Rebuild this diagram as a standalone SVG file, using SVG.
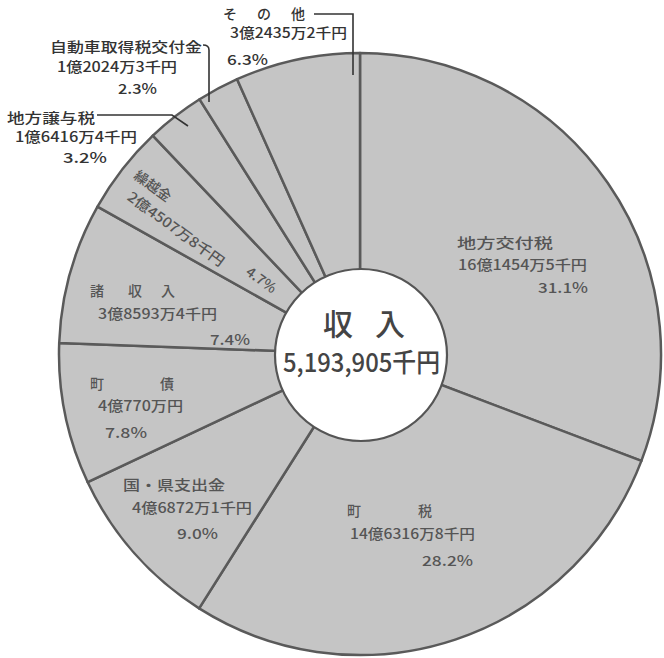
<svg xmlns="http://www.w3.org/2000/svg" width="664" height="658" viewBox="0 0 664 658">
<style>
.slice{fill:#c5c5c5;stroke:#5a5a5a;stroke-width:2.5;stroke-linejoin:round}
.t{font-family:"Noto Sans CJK JP","Noto Sans",sans-serif;fill:#555;font-size:14px;font-weight:500}
.o{font-family:"Noto Sans CJK JP","Noto Sans",sans-serif;fill:#333;font-size:14px;font-weight:500}
.lead{fill:none;stroke:#333;stroke-width:1.6}
.c{font-family:"Noto Sans CJK JP","Noto Sans",sans-serif;fill:#444;font-weight:500}
</style>
<rect width="664" height="658" fill="#fff"/>
<g id="slices">
<g id="chihoukoufuzei">
<path class="slice" d="M360 354 L360 53 A301 301 0 0 1 641.4 460.9 Z"/>
<text class="t" x="457" y="248" textLength="96" lengthAdjust="spacingAndGlyphs">地方交付税</text>
<text class="t" x="458" y="270" textLength="129" lengthAdjust="spacingAndGlyphs">16億1454万5千円</text>
<text class="t" x="538" y="293" textLength="50" lengthAdjust="spacingAndGlyphs">31.1%</text>
</g>
<g id="chouzei">
<path class="slice" d="M360 354 L641.4 460.9 A301 301 0 0 1 199.1 608.4 Z"/>
<text class="t" x="347" y="516">町</text>
<text class="t" x="418" y="516">税</text>
<text class="t" x="350" y="539" textLength="125" lengthAdjust="spacingAndGlyphs">14億6316万8千円</text>
<text class="t" x="422" y="566" textLength="51" lengthAdjust="spacingAndGlyphs">28.2%</text>
</g>
<g id="kokukenshishutsukin">
<path class="slice" d="M360 354 L199.1 608.4 A301 301 0 0 1 87.7 482.2 Z"/>
<text class="t" x="123" y="490" textLength="102" lengthAdjust="spacingAndGlyphs">国・県支出金</text>
<text class="t" x="132" y="513" textLength="120" lengthAdjust="spacingAndGlyphs">4億6872万1千円</text>
<text class="t" x="177" y="539" textLength="41" lengthAdjust="spacingAndGlyphs">9.0%</text>
</g>
<g id="chousai">
<path class="slice" d="M360 354 L87.7 482.2 A301 301 0 0 1 59.2 343 Z"/>
<text class="t" x="90" y="389">町</text>
<text class="t" x="160" y="389">債</text>
<text class="t" x="98" y="411" textLength="85" lengthAdjust="spacingAndGlyphs">4億770万円</text>
<text class="t" x="105" y="438" textLength="42" lengthAdjust="spacingAndGlyphs">7.8%</text>
</g>
<g id="shoshuunyuu">
<path class="slice" d="M360 354 L59.2 343 A301 301 0 0 1 97.5 206.7 Z"/>
<text class="t" x="90" y="296">諸</text>
<text class="t" x="128" y="296">収</text>
<text class="t" x="161" y="296">入</text>
<text class="t" x="98" y="319" textLength="119" lengthAdjust="spacingAndGlyphs">3億8593万4千円</text>
<text class="t" x="210" y="345" textLength="40" lengthAdjust="spacingAndGlyphs">7.4%</text>
</g>
<g id="kurikoshikin">
<path class="slice" d="M360 354 L97.5 206.7 A301 301 0 0 1 152.8 135.6 Z"/>
<g transform="translate(176 229) rotate(36)">
<text class="t" x="-65" y="-16" font-size="13" textLength="42" lengthAdjust="spacingAndGlyphs">繰越金</text>
<text class="t" x="-58" y="5" font-size="13" textLength="116" lengthAdjust="spacingAndGlyphs">2億4507万8千円</text>
<text class="t" x="82" y="-4" font-size="13" textLength="34" lengthAdjust="spacingAndGlyphs">4.7%</text>
</g>
</g>
<g id="chihoujouyozei">
<path class="slice" d="M360 354 L152.8 135.6 A301 301 0 0 1 199.6 99.3 Z"/>
<text class="o" x="7" y="123" font-size="13" textLength="88" lengthAdjust="spacingAndGlyphs">地方譲与税</text>
<text class="o" x="15" y="142" textLength="122" lengthAdjust="spacingAndGlyphs">1億6416万4千円</text>
<text class="o" x="63" y="163" textLength="44" lengthAdjust="spacingAndGlyphs">3.2%</text>
</g>
<g id="jidousha">
<path class="slice" d="M360 354 L199.6 99.3 A301 301 0 0 1 237.1 79.2 Z"/>
<text class="o" x="50" y="52" font-size="15" textLength="152" lengthAdjust="spacingAndGlyphs">自動車取得税交付金</text>
<text class="o" x="57" y="72" textLength="120" lengthAdjust="spacingAndGlyphs">1億2024万3千円</text>
<text class="o" x="118" y="94" textLength="39" lengthAdjust="spacingAndGlyphs">2.3%</text>
</g>
<g id="sonota">
<path class="slice" d="M360 354 L237.1 79.2 A301 301 0 0 1 360 53 Z"/>
<text class="o" x="223" y="19" textLength="82" lengthAdjust="spacing">その他</text>
<text class="o" x="230" y="38" textLength="117" lengthAdjust="spacingAndGlyphs">3億2435万2千円</text>
<text class="o" x="227" y="65" textLength="41" lengthAdjust="spacingAndGlyphs">6.3%</text>
</g>
</g>
<g id="connectors">
<path class="lead" d="M314 14 L353 14 L353 75"/>
<path class="lead" d="M203 45 Q209 45 209 50 L209 102"/>
<path class="lead" d="M97 115 L172 115 L188 126"/>
</g>
<g id="center">
<circle cx="361" cy="355" r="86" fill="#fff" stroke="#555" stroke-width="2.2"/>
<text class="c" x="323" y="335" font-size="30">収</text>
<text class="c" x="375" y="335" font-size="30">入</text>
<text class="c" x="283" y="372" font-size="26" textLength="157" lengthAdjust="spacingAndGlyphs">5,193,905千円</text>
</g>
</svg>
